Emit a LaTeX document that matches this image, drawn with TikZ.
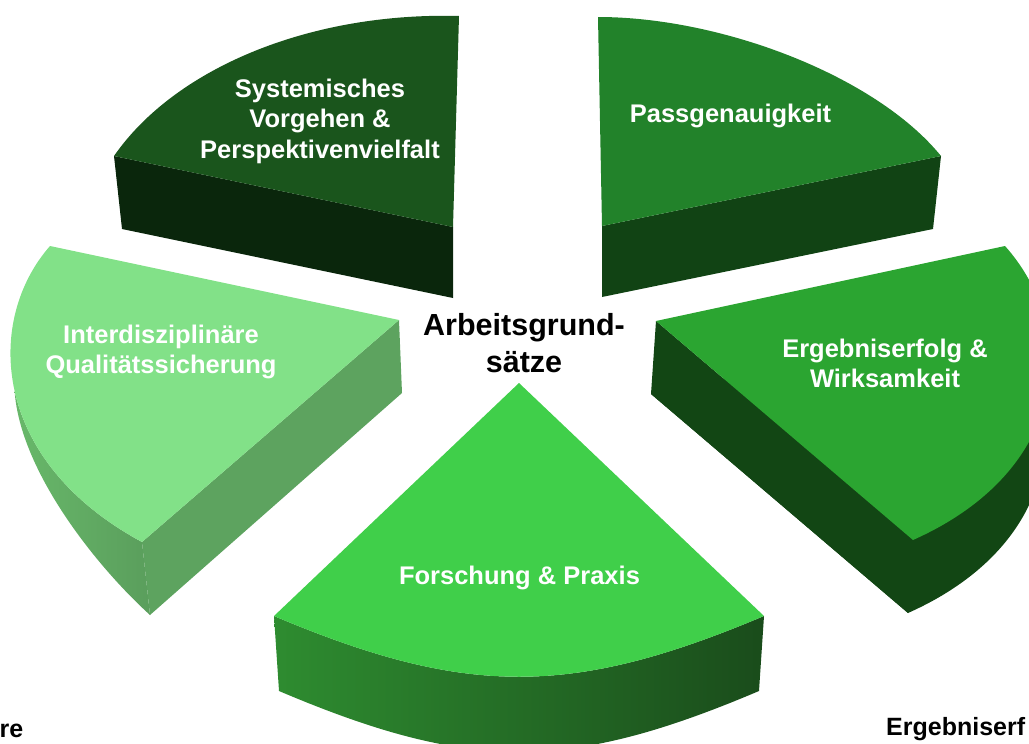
\documentclass[tikz,border=0pt]{standalone}
\usepackage{fontspec}
\setmainfont{Liberation Sans}
\definecolor{aTop}{HTML}{1A551C}
\definecolor{aSide}{HTML}{0A260C}
\definecolor{bTop}{HTML}{22822A}
\definecolor{bSide}{HTML}{114314}
\definecolor{cTop}{HTML}{2BA531}
\definecolor{cSide}{HTML}{124614}
\definecolor{dTop}{HTML}{40CF4A}
\definecolor{dSideL}{HTML}{2E8C30}
\definecolor{dSideM}{HTML}{1F6121}
\definecolor{dSideR}{HTML}{1A4C1B}
\definecolor{eTop}{HTML}{82E188}
\definecolor{eSide}{HTML}{5DA35F}
\definecolor{eSideL}{HTML}{68B86A}
\definecolor{eSideR}{HTML}{5A9E5C}
\begin{document}
\begin{tikzpicture}[x=1pt,y=-1pt,
  lbl/.style={text=white,font=\bfseries\fontsize{25.5}{30.5}\selectfont,align=center,inner sep=0pt},
  hub/.style={text=black,font=\bfseries\fontsize{30.5}{37}\selectfont,align=center,inner sep=0pt},
  cut/.style={text=black,font=\bfseries\fontsize{25}{28}\selectfont,inner sep=0pt}]
\useasboundingbox (0,0) rectangle (1029,744);
\clip (0,0) rectangle (1029,744);
% segment 1 (top left)
\fill[aSide] (114,156) -- (122,229) -- (453,298) -- (453,227) -- cycle;
\fill[aTop] (459,16) -- (453,227) -- (114,156) .. controls (175,68) and (310,12) .. (459,16) -- cycle;
% segment 2 (top right)
\fill[bSide] (602,226) -- (941,156) -- (933,229) -- (602,297) -- cycle;
\fill[bTop] (598,17) .. controls (720,17) and (875,75) .. (941,156) -- (602,226) -- cycle;
% segment 3 (right)
\fill[cSide] (651,394) -- (1000,319) .. controls (1075,403) and (1065,543) .. (908,613) -- cycle;
\fill[cSide] (656,321) -- (651,394) -- (908,613) -- (913,540) -- cycle;
\fill[cTop] (656,321) -- (1005,246) .. controls (1080,330) and (1070,470) .. (913,540) -- cycle;
% segment 4 (bottom)
\path[left color=dSideL, middle color=dSideM, right color=dSideR]
  (274,616) -- (279,691) .. controls (470,772) and (568,772) .. (759,691)
  -- (764,616) .. controls (572,697) and (466,697) .. (274,616) -- cycle;
\fill[dTop] (519,383) -- (764,616) .. controls (572,697) and (466,697) .. (274,616) -- cycle;
% segment 5 (left)
\path[left color=eSideL, right color=eSideR]
  (142,542) .. controls (66,501) and (26.75,445.5) .. (14.6,391)
  .. controls (20,470) and (95,565) .. (150,615) -- cycle;
\fill[eSide] (142,542) -- (399,320) -- (402,393) -- (150,615) -- cycle;
\fill[eTop] (50,246) -- (399,320) -- (142,542) .. controls (-10,460) and (-15,320) .. (50,246) -- cycle;
% labels
\node[lbl] (l1) at (320,121) {Systemisches\\Vorgehen \&\\Perspektivenvielfalt};
\node[lbl] (l2) at (730.5,116) {Passgenauigkeit};
\node[lbl] (l3) at (885,363.5) {Ergebniserfolg \&\\Wirksamkeit};
\node[lbl] (l4) at (519.5,577.5) {Forschung \& Praxis};
\node[lbl] (l5) at (161,352) {Interdisziplinäre\\Qualitätssicherung};
\node[hub] (hub) at (524,343.5) {Arbeitsgrund-\\sätze};
\node[cut,anchor=base west] (cl) at (-0.5,737) {re};
\node[cut,anchor=base west] (cr) at (886,735) {Ergebniserf};
\end{tikzpicture}
\end{document}
